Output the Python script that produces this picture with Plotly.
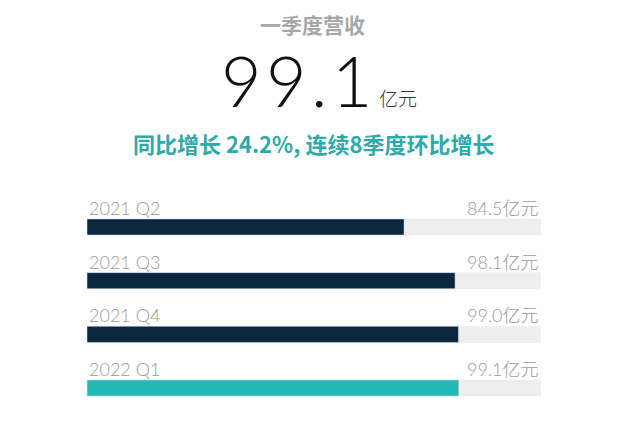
import plotly.graph_objects as go

# quarterly revenue, 亿元
quarters = ["2021 Q2", "2021 Q3", "2021 Q4", "2022 Q1"]
revenue = [84.5, 98.1, 99.0, 99.1]
value_labels = ["84.5亿元", "98.1亿元", "99.0亿元", "99.1亿元"]
bar_colors = ["#0b2740", "#0b2740", "#0b2740", "#22b8b4"]
track_max = 121

headline = "一季度营收"
big_number = "9\u200a9\u200a.\u200a1"
big_unit = "亿元"
subtitle = "同比增长 24.2%, 连续8季度环比增长"

pos = list(range(len(quarters)))

fig = go.Figure()
fig.add_trace(go.Bar(x=[track_max] * len(pos), y=pos, orientation="h",
                     marker_color="#eeeeee", width=0.3, hoverinfo="skip"))
fig.add_trace(go.Bar(x=revenue, y=pos, orientation="h",
                     marker_color=bar_colors, width=0.3,
                     hovertext=quarters))

thin = "Lato, Noto Sans CJK SC, sans-serif"
for i, q in enumerate(quarters):
    fig.add_annotation(x=0, y=i, xref="x", yref="y", text=q, showarrow=False,
                       xanchor="left", yanchor="middle", yshift=19,
                       font=dict(family=thin, size=18, color="#9a9a9a", weight=300))
    fig.add_annotation(x=track_max, y=i, xref="x", yref="y", text=value_labels[i],
                       showarrow=False, xanchor="right", yanchor="middle", yshift=19,
                       font=dict(family=thin, size=18, color="#9a9a9a", weight=300))

# header texts; page has an 8px body margin, plot area spans fig rows 192..400
def py(pix):
    return (400 - (pix - 8)) / 208

def px_(pix):
    return (pix - 8 - 79) / 454

fig.add_annotation(x=px_(312), y=py(24), xref="paper", yref="paper", text=headline,
                   showarrow=False, xanchor="center", yanchor="middle",
                   font=dict(family="Noto Sans CJK SC", size=21,
                             color="#a8a8a8", weight=700))
fig.add_annotation(x=px_(296), y=py(80), xref="paper", yref="paper", text=big_number,
                   showarrow=False, xanchor="center", yanchor="middle",
                   font=dict(family="Lato, sans-serif", size=70, color="#111111",
                             weight=300))
fig.add_annotation(x=px_(377), y=py(97), xref="paper", yref="paper", text=big_unit,
                   showarrow=False, xanchor="left", yanchor="middle",
                   font=dict(family="Noto Sans CJK SC", size=19,
                             color="#333333", weight=300))
fig.add_annotation(x=px_(313), y=py(143), xref="paper", yref="paper", text=subtitle,
                   showarrow=False, xanchor="center", yanchor="middle",
                   font=dict(family="Noto Sans CJK SC", size=22,
                             color="#2eaaa8", weight=700))

fig.update_layout(
    width=628, height=438,
    margin=dict(l=79, r=95, t=192, b=38),
    barmode="overlay", showlegend=False,
    plot_bgcolor="white", paper_bgcolor="white",
    xaxis=dict(range=[0, track_max], visible=False, fixedrange=True),
    yaxis=dict(range=[3.372, -0.503], visible=False, fixedrange=True),
)
fig.write_html("out.html", config={"displayModeBar": False})
